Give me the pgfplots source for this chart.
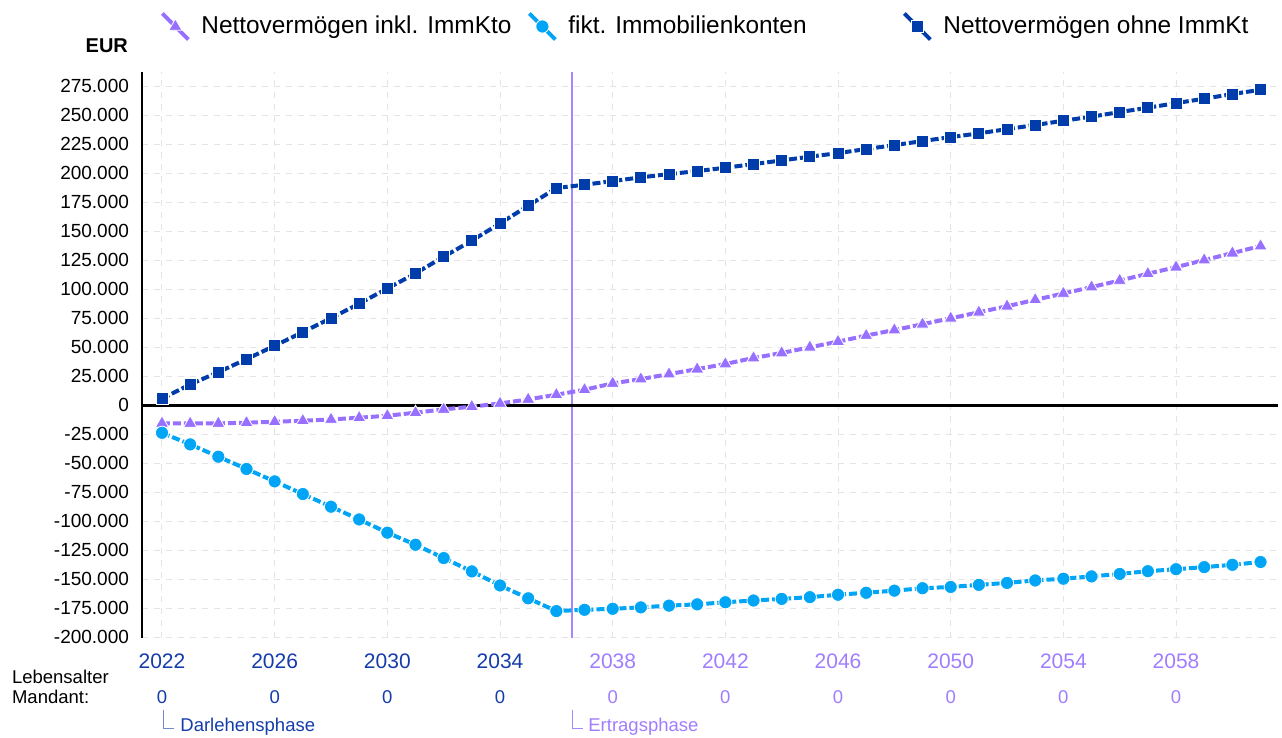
\documentclass[border=0pt]{standalone}
\usepackage{pgfplots}
\pgfplotsset{compat=1.18}
\usepackage{pgfplotstable}
\usepackage{fontspec}
\setmainfont{Liberation Sans}
\definecolor{dblue}{RGB}{0,60,170}
\definecolor{lblue}{RGB}{0,165,245}
\definecolor{purp}{RGB}{152,112,255}
\definecolor{vline}{RGB}{165,135,255}
\definecolor{txtblue}{RGB}{20,60,170}
\definecolor{txtpurp}{RGB}{160,125,255}
\definecolor{gridc}{RGB}{228,228,228}

\pgfplotstableread{
year inkl fikt ohne
2022 -15500 -23600 5800
2023 -15500 -33600 18100
2024 -15500 -44200 28700
2025 -14900 -54800 39900
2026 -14100 -65500 51400
2027 -13200 -76400 63200
2028 -12100 -87300 75200
2029 -10600 -98300 87700
2030 -8900 -109700 100800
2031 -6300 -120100 113800
2032 -3400 -131600 128200
2033 -1100 -143100 142000
2034 1700 -155200 156900
2035 5200 -166300 172100
2036 9200 -177300 187400
2037 13500 -176200 190200
2038 19000 -175300 193400
2039 22700 -174100 196600
2040 27000 -172600 199400
2041 31300 -171500 202000
2042 35700 -169700 204900
2043 40900 -168200 208000
2044 45200 -166800 211200
2045 50100 -165300 214400
2046 55000 -163200 217500
2047 60200 -161500 221000
2048 65000 -159700 224400
2049 70000 -157600 227900
2050 75100 -156500 231300
2051 80300 -154700 234500
2052 85500 -153000 238200
2053 91000 -150900 241700
2054 96500 -149400 245400
2055 102000 -147400 248900
2056 107700 -145300 252900
2057 113500 -142900 256600
2058 119200 -141200 260600
2059 125300 -139400 264400
2060 131300 -137400 268400
2061 137400 -135000 272100
}\datatable

\newcommand{\yb}[1]{\textcolor{txtblue}{#1}\\[1.5pt]{\fontsize{9.25}{11}\selectfont\textcolor{txtblue}{0}}}
\newcommand{\yp}[1]{\textcolor{txtpurp}{#1}\\[1.5pt]{\fontsize{9.25}{11}\selectfont\textcolor{txtpurp}{0}}}

\begin{document}
\begin{tikzpicture}
\useasboundingbox (0,0) rectangle (641pt,369pt);
\begin{axis}[
  at={(71pt,50pt)}, anchor=south west,
  scale only axis, width=568pt, height=282.75pt,
  xmin=2021.29, xmax=2061.62,
  ymin=-200500, ymax=287000,
  axis lines=left,
  axis line style={-},
  x axis line style={draw=none},
  y axis line style={black, line width=1pt},
  xtick={2022,2026,...,2058},
  xticklabels={\yb{2022},\yb{2026},\yb{2030},\yb{2034},\yp{2038},\yp{2042},\yp{2046},\yp{2050},\yp{2054},\yp{2058}},
  xticklabel style={align=center, font=\fontsize{10.5}{16}\selectfont, yshift=-4.5pt},
  minor x tick num=3,
  ytick={-200000,-175000,...,275000},
  scaled y ticks=false,
  yticklabel style={font=\fontsize{9.5}{11}\selectfont, xshift=-3pt,
    /pgf/number format/fixed, /pgf/number format/1000 sep={.}, /pgf/number format/assume math mode=true},
  major tick length=0pt, minor tick length=0pt,
  grid=both,
  major grid style={gridc, dashed, line width=0.5pt},
  minor grid style={gridc, dashed, line width=0.5pt},
  extra y ticks={0},
  extra y tick labels={},
  extra y tick style={grid=major, major grid style={black, solid, line width=1.2pt}},
  extra x ticks={2036.55},
  extra x tick labels={},
  extra x tick style={grid=major, major grid style={vline, solid, line width=0.75pt}},
  clip=false,
  legend columns=3,
  legend style={at={([xshift=9pt,yshift=23pt]axis description cs:0,1)}, anchor=west, draw=none, fill=none, inner sep=0pt,
    font=\fontsize{12.2}{14}\selectfont,
    /tikz/every even column/.append style={column sep=4pt},
    /tikz/every odd column/.append style={column sep=3.5pt}},
  legend image code/.code={%
    \draw[#1,solid,line width=2pt] (0pt,6.5pt) -- (13pt,-6.5pt);
    \draw[#1,solid] plot coordinates {(6.5pt,0pt)};
  },
  every axis plot/.append style={line width=2pt, dash pattern=on 4pt off 1.5pt},
]
\addplot[purp, mark=triangle*, mark size=3.8pt, mark options={solid, fill=purp, draw=white, line width=0.4pt}] table[x=year,y=inkl] {\datatable};
\addlegendentry{\makebox[157pt][l]{Nettovermögen inkl. ImmKto}}
\addplot[lblue, mark=*, mark size=3.3pt, mark options={solid, fill=lblue, draw=white, line width=0.4pt}] table[x=year,y=fikt] {\datatable};
\addlegendentry{\makebox[161pt][l]{fikt. Immobilienkonten}}
\addplot[dblue, mark=square*, mark size=3pt, mark options={solid, fill=dblue, draw=white, line width=0.4pt}] table[x=year,y=ohne] {\datatable};
\addlegendentry{Nettovermögen ohne ImmKt}
\end{axis}
\node[anchor=east, font=\bfseries\fontsize{10}{12}\selectfont] at (67.5pt,346pt) {EUR};
\node[anchor=west, font=\fontsize{9.25}{11}\selectfont] at (2.5pt,30.5pt) {Lebensalter};
\node[anchor=west, font=\fontsize{9.25}{11}\selectfont] at (2.5pt,20.5pt) {Mandant:};
\draw[txtblue!60, line width=0.5pt] (81.5pt,14pt) -- (81.5pt,4.5pt) -- (87pt,4.5pt);
\node[anchor=west, inner sep=0pt, text=txtblue, font=\fontsize{9.25}{11}\selectfont] at (90pt,5.5pt) {Darlehensphase};
\draw[vline, line width=0.5pt] (286pt,14pt) -- (286pt,4.5pt) -- (291.5pt,4.5pt);
\node[anchor=west, inner sep=0pt, text=txtpurp, font=\fontsize{9.25}{11}\selectfont] at (294pt,5.5pt) {Ertragsphase};
\end{tikzpicture}
\end{document}
